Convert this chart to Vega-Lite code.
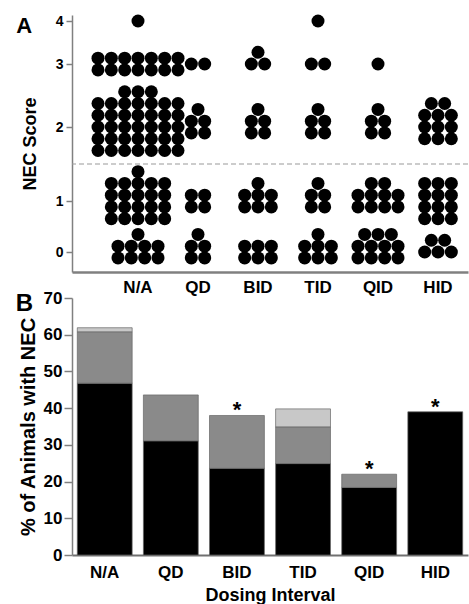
{
  "$schema": "https://vega.github.io/schema/vega-lite/v6.json",
  "padding": {"left": 15, "top": 10, "right": 0, "bottom": 0},
  "background": "white",
  "bounds": "flush",
  "spacing": 26,
  "resolve": {"scale": {"xOffset": "independent", "x": "independent", "y": "independent"}},
  "config": {
    "font": "Liberation Sans",
    "view": {"stroke": null},
    "axis": {"grid": false, "domainColor": "#808080", "tickColor": "#808080", "labelColor": "#000000", "titleColor": "#000000", "labelFont": "Liberation Sans", "titleFont": "Liberation Sans"}
  },
  "datasets": {
    "dots": [
      {"g":"N/A","s":4},
      {"g":"N/A","s":3},{"g":"N/A","s":3},{"g":"N/A","s":3},{"g":"N/A","s":3},{"g":"N/A","s":3},{"g":"N/A","s":3},{"g":"N/A","s":3},
      {"g":"N/A","s":3},{"g":"N/A","s":3},{"g":"N/A","s":3},{"g":"N/A","s":3},{"g":"N/A","s":3},{"g":"N/A","s":3},{"g":"N/A","s":3},
      {"g":"N/A","s":2},{"g":"N/A","s":2},{"g":"N/A","s":2},{"g":"N/A","s":2},{"g":"N/A","s":2},{"g":"N/A","s":2},{"g":"N/A","s":2},
      {"g":"N/A","s":2},{"g":"N/A","s":2},{"g":"N/A","s":2},{"g":"N/A","s":2},{"g":"N/A","s":2},{"g":"N/A","s":2},{"g":"N/A","s":2},
      {"g":"N/A","s":2},{"g":"N/A","s":2},{"g":"N/A","s":2},{"g":"N/A","s":2},{"g":"N/A","s":2},{"g":"N/A","s":2},{"g":"N/A","s":2},
      {"g":"N/A","s":2},{"g":"N/A","s":2},{"g":"N/A","s":2},{"g":"N/A","s":2},{"g":"N/A","s":2},{"g":"N/A","s":2},{"g":"N/A","s":2},
      {"g":"N/A","s":2},{"g":"N/A","s":2},{"g":"N/A","s":2},{"g":"N/A","s":2},{"g":"N/A","s":2},{"g":"N/A","s":2},{"g":"N/A","s":2},
      {"g":"N/A","s":2},{"g":"N/A","s":2},{"g":"N/A","s":2},
      {"g":"N/A","s":1},{"g":"N/A","s":1},{"g":"N/A","s":1},{"g":"N/A","s":1},{"g":"N/A","s":1},{"g":"N/A","s":1},{"g":"N/A","s":1},
      {"g":"N/A","s":1},{"g":"N/A","s":1},{"g":"N/A","s":1},{"g":"N/A","s":1},{"g":"N/A","s":1},{"g":"N/A","s":1},{"g":"N/A","s":1},
      {"g":"N/A","s":1},{"g":"N/A","s":1},{"g":"N/A","s":1},{"g":"N/A","s":1},{"g":"N/A","s":1},{"g":"N/A","s":1},{"g":"N/A","s":1},
      {"g":"N/A","s":0},{"g":"N/A","s":0},{"g":"N/A","s":0},{"g":"N/A","s":0},{"g":"N/A","s":0},{"g":"N/A","s":0},{"g":"N/A","s":0},
      {"g":"N/A","s":0},{"g":"N/A","s":0},
      {"g":"QD","s":3},{"g":"QD","s":3},
      {"g":"QD","s":2},{"g":"QD","s":2},{"g":"QD","s":2},{"g":"QD","s":2},{"g":"QD","s":2},
      {"g":"QD","s":1},{"g":"QD","s":1},{"g":"QD","s":1},{"g":"QD","s":1},
      {"g":"QD","s":0},{"g":"QD","s":0},{"g":"QD","s":0},{"g":"QD","s":0},{"g":"QD","s":0},
      {"g":"BID","s":3},{"g":"BID","s":3},{"g":"BID","s":3},
      {"g":"BID","s":2},{"g":"BID","s":2},{"g":"BID","s":2},{"g":"BID","s":2},{"g":"BID","s":2},
      {"g":"BID","s":1},{"g":"BID","s":1},{"g":"BID","s":1},{"g":"BID","s":1},{"g":"BID","s":1},{"g":"BID","s":1},{"g":"BID","s":1},
      {"g":"BID","s":0},{"g":"BID","s":0},{"g":"BID","s":0},{"g":"BID","s":0},{"g":"BID","s":0},{"g":"BID","s":0},
      {"g":"TID","s":4},
      {"g":"TID","s":3},{"g":"TID","s":3},
      {"g":"TID","s":2},{"g":"TID","s":2},{"g":"TID","s":2},{"g":"TID","s":2},{"g":"TID","s":2},
      {"g":"TID","s":1},{"g":"TID","s":1},{"g":"TID","s":1},{"g":"TID","s":1},{"g":"TID","s":1},
      {"g":"TID","s":0},{"g":"TID","s":0},{"g":"TID","s":0},{"g":"TID","s":0},{"g":"TID","s":0},{"g":"TID","s":0},{"g":"TID","s":0},
      {"g":"QID","s":3},
      {"g":"QID","s":2},{"g":"QID","s":2},{"g":"QID","s":2},{"g":"QID","s":2},{"g":"QID","s":2},
      {"g":"QID","s":1},{"g":"QID","s":1},{"g":"QID","s":1},{"g":"QID","s":1},{"g":"QID","s":1},
      {"g":"QID","s":1},{"g":"QID","s":1},{"g":"QID","s":1},{"g":"QID","s":1},{"g":"QID","s":1},
      {"g":"QID","s":0},{"g":"QID","s":0},{"g":"QID","s":0},{"g":"QID","s":0},{"g":"QID","s":0},{"g":"QID","s":0},
      {"g":"QID","s":0},{"g":"QID","s":0},{"g":"QID","s":0},{"g":"QID","s":0},{"g":"QID","s":0},
      {"g":"HID","s":2},{"g":"HID","s":2},{"g":"HID","s":2},{"g":"HID","s":2},{"g":"HID","s":2},{"g":"HID","s":2},
      {"g":"HID","s":2},{"g":"HID","s":2},{"g":"HID","s":2},{"g":"HID","s":2},{"g":"HID","s":2},
      {"g":"HID","s":1},{"g":"HID","s":1},{"g":"HID","s":1},{"g":"HID","s":1},{"g":"HID","s":1},{"g":"HID","s":1},
      {"g":"HID","s":1},{"g":"HID","s":1},{"g":"HID","s":1},{"g":"HID","s":1},{"g":"HID","s":1},{"g":"HID","s":1},
      {"g":"HID","s":0},{"g":"HID","s":0},{"g":"HID","s":0},{"g":"HID","s":0},{"g":"HID","s":0}
    ],
    "pct": [
      {"g":"N/A","lvl":"Score 2","pct":46.8},
      {"g":"N/A","lvl":"Score 3","pct":14.0},
      {"g":"N/A","lvl":"Score 4","pct":1.1},
      {"g":"QD","lvl":"Score 2","pct":31.1},
      {"g":"QD","lvl":"Score 3","pct":12.5},
      {"g":"BID","lvl":"Score 2","pct":23.6},
      {"g":"BID","lvl":"Score 3","pct":14.4},
      {"g":"TID","lvl":"Score 2","pct":24.9},
      {"g":"TID","lvl":"Score 3","pct":10.0},
      {"g":"TID","lvl":"Score 4","pct":4.9},
      {"g":"QID","lvl":"Score 2","pct":18.4},
      {"g":"QID","lvl":"Score 3","pct":3.6},
      {"g":"HID","lvl":"Score 2","pct":39.0}
    ]
  },
  "vconcat": [
    {
      "width": 396,
      "height": 262,
      "title": {"text": "A", "orient": "left", "anchor": "end", "frame": "group", "angle": 0, "align": "left", "baseline": "top", "offset": -11, "fontSize": 22, "fontWeight": "bold", "dy": 6},
      "layer": [
        {
          "data": {"values": [{"s": 1.5}]},
          "mark": {"type": "rule", "strokeDash": [5, 3], "color": "#999999", "strokeWidth": 1.2},
          "encoding": {
            "y": {
              "field": "s", "type": "quantitative",
              "scale": {"domain": [-0.4, 0, 1, 2, 3, 4, 4.14], "range": [262, 242, 191, 117, 54, 11, 5], "nice": false, "zero": false},
              "axis": {"title": "NEC Score", "values": [0, 1, 2, 3, 4], "format": "d", "domain": true, "tickSize": 6, "tickWidth": 1.5, "domainWidth": 1.5, "labelFontSize": 14, "labelFontWeight": "bold", "labelPadding": 3, "titleFontSize": 18, "titleFontWeight": "bold", "titlePadding": 16}
            }
          }
        },
        {
          "data": {"name": "dots"},
          "transform": [
            {"window": [{"op": "row_number", "as": "k"}], "groupby": ["g", "s"]},
            {"joinaggregate": [{"op": "count", "as": "n"}], "groupby": ["g", "s"]},
            {"calculate": "datum.n == 1 ? 1 : (datum.g == 'HID' && datum.n == 5) ? 3 : (datum.g == 'QID' && datum.n >= 10) ? 4 : datum.n <= 5 ? 2 : datum.n <= 8 ? 3 : datum.n == 9 ? 4 : datum.n <= 12 ? 3 : datum.n <= 14 ? 7 : datum.n <= 21 ? 5 : 7", "as": "nc"},
            {"calculate": "floor((datum.k - 1) / datum.nc)", "as": "r"},
            {"calculate": "floor(datum.n / datum.nc)", "as": "full"},
            {"calculate": "datum.r < datum.full ? datum.nc : datum.n - datum.full * datum.nc", "as": "cnt"},
            {"calculate": "(datum.k - 1) - datum.r * datum.nc - (datum.cnt - 1) / 2", "as": "c"},
            {"calculate": "datum.r - (datum.full - 1) / 2", "as": "ro"}
          ],
          "mark": {"type": "circle", "size": 169, "color": "#000000", "opacity": 1, "yOffset": {"expr": "-11.75 * datum.ro"}},
          "encoding": {
            "x": {
              "field": "g", "type": "nominal",
              "sort": ["N/A", "QD", "BID", "TID", "QID", "HID"],
              "scale": {"paddingInner": 0, "paddingOuter": 0.3, "align": 1},
              "axis": {"title": null, "labelAngle": 0, "ticks": false, "tickSize": 0, "labelFontSize": 17, "labelFontWeight": "bold", "labelPadding": 7, "domain": true, "domainWidth": 2.5, "domainColor": "#808080"}
            },
            "xOffset": {"field": "c", "type": "quantitative", "scale": {"domain": [-2.25, 2.25], "nice": false, "zero": false}},
            "y": {
              "field": "s", "type": "quantitative",
              "scale": {"domain": [-0.4, 0, 1, 2, 3, 4, 4.14], "range": [262, 242, 191, 117, 54, 11, 5], "nice": false, "zero": false},
              "axis": {"title": "NEC Score", "values": [0, 1, 2, 3, 4], "format": "d", "domain": true, "tickSize": 6, "tickWidth": 1.5, "domainWidth": 1.5, "labelFontSize": 14, "labelFontWeight": "bold", "labelPadding": 3, "titleFontSize": 18, "titleFontWeight": "bold", "titlePadding": 16}
            }
          }
        }
      ]
    },
    {
      "width": 396,
      "height": 257,
      "title": {"text": "B", "orient": "left", "anchor": "end", "frame": "group", "angle": 0, "align": "left", "baseline": "top", "offset": -15, "fontSize": 24, "fontWeight": "bold", "dy": -6},
      "layer": [
        {
          "data": {"name": "pct"},
          "mark": {"type": "bar", "stroke": "#666666", "strokeWidth": 0.7},
          "encoding": {
            "x": {
              "field": "g", "type": "nominal",
              "sort": ["N/A", "QD", "BID", "TID", "QID", "HID"],
              "scale": {"paddingInner": 0.17, "paddingOuter": 0.08},
              "axis": {"title": "Dosing Interval", "labelAngle": 0, "ticks": false, "tickSize": 0, "labelFontSize": 17, "labelFontWeight": "bold", "labelPadding": 9, "domainWidth": 2, "domainColor": "#707070", "titleFontSize": 18, "titleFontWeight": "bold", "titlePadding": 6}
            },
            "y": {
              "field": "pct", "type": "quantitative", "stack": "zero",
              "scale": {"domain": [0, 70], "nice": false},
              "axis": {"title": "% of Animals with NEC", "values": [0, 10, 20, 30, 40, 50, 60, 70], "tickCount": 8, "labelOverlap": false, "tickSize": 8, "tickWidth": 1.5, "domainWidth": 1.5, "labelFontSize": 17, "labelFontWeight": "bold", "labelPadding": 2, "titleFontSize": 20, "titleFontWeight": "bold", "titlePadding": 5}
            },
            "color": {"field": "lvl", "type": "nominal", "scale": {"domain": ["Score 2", "Score 3", "Score 4"], "range": ["#000000", "#8a8a8a", "#c8c8c8"]}, "legend": null},
            "order": {"field": "lvl", "sort": "ascending"}
          }
        },
        {
          "data": {"name": "pct"},
          "transform": [
            {"filter": {"field": "g", "oneOf": ["BID", "QID", "HID"]}},
            {"aggregate": [{"op": "sum", "field": "pct", "as": "pct"}], "groupby": ["g"]}
          ],
          "mark": {"type": "text", "text": "*", "fontSize": 22, "fontWeight": "bold", "baseline": "alphabetic", "dy": 2, "color": "#000000"},
          "encoding": {
            "x": {
              "field": "g", "type": "nominal", "sort": ["N/A", "QD", "BID", "TID", "QID", "HID"],
              "axis": {"title": "Dosing Interval", "labelAngle": 0, "ticks": false, "tickSize": 0, "labelFontSize": 17, "labelFontWeight": "bold", "labelPadding": 9, "domainWidth": 2, "domainColor": "#707070", "titleFontSize": 18, "titleFontWeight": "bold", "titlePadding": 6}
            },
            "y": {
              "field": "pct", "type": "quantitative",
              "axis": {"title": "% of Animals with NEC", "values": [0, 10, 20, 30, 40, 50, 60, 70], "tickCount": 8, "labelOverlap": false, "tickSize": 8, "tickWidth": 1.5, "domainWidth": 1.5, "labelFontSize": 17, "labelFontWeight": "bold", "labelPadding": 2, "titleFontSize": 20, "titleFontWeight": "bold", "titlePadding": 5}
            }
          }
        }
      ]
    }
  ]
}
